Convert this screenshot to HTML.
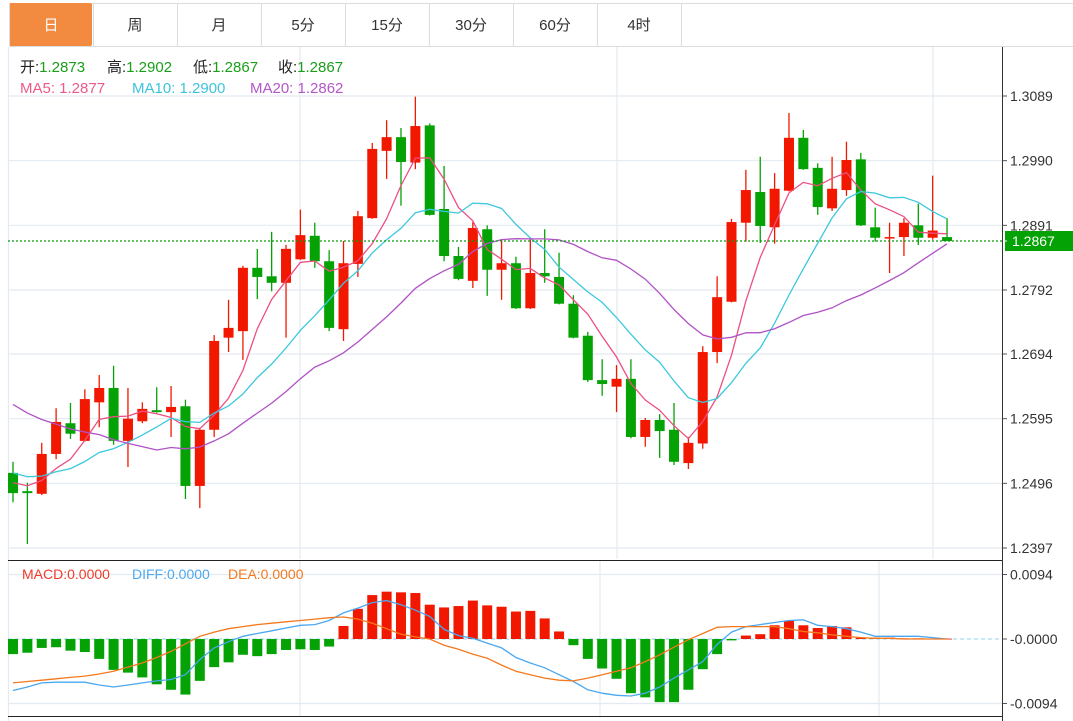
<!DOCTYPE html>
<html><head><meta charset="utf-8">
<style>
html,body{margin:0;padding:0;background:#fff;}
svg{display:block;font-family:"Liberation Sans","Noto Sans CJK SC",sans-serif;}
</style></head>
<body>
<svg id="chart" width="1073" height="721" viewBox="0 0 1073 721" xmlns="http://www.w3.org/2000/svg">
  <rect x="0" y="0" width="1073" height="721" fill="#fff"/>
  <g id="tabs"></g>
  <g id="grid"></g>
  <g id="info">
    <text x="20" y="72" font-size="15" fill="#222">开:<tspan fill="#1a9e1a">1.2873</tspan></text>
    <text x="107" y="72" font-size="15" fill="#222">高:<tspan fill="#1a9e1a">1.2902</tspan></text>
    <text x="193" y="72" font-size="15" fill="#222">低:<tspan fill="#1a9e1a">1.2867</tspan></text>
    <text x="278" y="72" font-size="15" fill="#222">收:<tspan fill="#1a9e1a">1.2867</tspan></text>
    <text x="20" y="93" font-size="15" fill="#ec5a8a">MA5: 1.2877</text>
    <text x="132" y="93" font-size="15" fill="#3cc4dc">MA10: 1.2900</text>
    <text x="250" y="93" font-size="15" fill="#b457c8">MA20: 1.2862</text>
  </g>
  <g id="candles"></g>
  <g id="malines"></g>
  <g id="axis"></g>
  <g id="macd"></g>
</svg>
<script>
// ---- data ----
const opens  = [1.2512,1.2484,1.2480,1.2541,1.2588,1.2561,1.2620,1.2642,1.2561,1.2591,1.2608,1.2605,1.2614,1.2492,1.2578,1.2719,1.2729,1.2826,1.2813,1.2803,1.2839,1.2875,1.2836,1.2732,1.2832,1.2902,1.3005,1.3026,1.2987,1.3044,1.2916,1.2844,1.2806,1.2885,1.2823,1.2833,1.2764,1.2818,1.2812,1.2771,1.2722,1.2654,1.2644,1.2656,1.2567,1.2593,1.2578,1.2527,1.2557,1.2697,1.2774,1.2895,1.2942,1.2888,1.2944,1.3025,1.2979,1.2917,1.2945,1.2992,1.2888,1.2872,1.2873,1.2891,1.2872,1.2873];
const highs  = [1.2529,1.2497,1.2558,1.2611,1.2619,1.2640,1.2662,1.2676,1.2642,1.2620,1.2643,1.2645,1.2624,1.2581,1.2723,1.2777,1.2829,1.2855,1.2881,1.2861,1.2915,1.2895,1.2853,1.2867,1.2913,1.3017,1.3052,1.3040,1.3088,1.3047,1.2982,1.2858,1.2896,1.2891,1.2869,1.2843,1.2872,1.2885,1.2849,1.2784,1.2728,1.2686,1.2677,1.2686,1.2596,1.2602,1.2619,1.2567,1.2706,1.2813,1.2901,1.2976,1.2996,1.2971,1.3063,1.3037,1.2986,1.2996,1.3019,1.3002,1.2918,1.2895,1.2902,1.2924,1.2967,1.2902];
const lows   = [1.2467,1.2403,1.2478,1.2533,1.2564,1.2560,1.2582,1.2555,1.2521,1.2588,1.2604,1.2567,1.2472,1.2458,1.2567,1.2697,1.2685,1.2778,1.2790,1.2719,1.2838,1.2826,1.2729,1.2714,1.2812,1.2901,1.2962,1.2921,1.2977,1.2906,1.2836,1.2807,1.2795,1.2783,1.2777,1.2763,1.2763,1.2803,1.2770,1.2718,1.2651,1.2630,1.2605,1.2565,1.2552,1.2535,1.2524,1.2518,1.2549,1.2680,1.2773,1.2866,1.2864,1.2863,1.2943,1.2976,1.2907,1.2913,1.2936,1.2890,1.2866,1.2818,1.2844,1.2861,1.2869,1.2867];
const closes = [1.2481,1.2481,1.2541,1.2590,1.2572,1.2625,1.2642,1.2561,1.2595,1.2610,1.2605,1.2613,1.2492,1.2578,1.2714,1.2734,1.2826,1.2812,1.2803,1.2855,1.2876,1.2836,1.2734,1.2833,1.2905,1.3008,1.3026,1.2988,1.3043,1.2907,1.2844,1.2809,1.2887,1.2823,1.2833,1.2764,1.2818,1.2813,1.2771,1.2719,1.2654,1.2648,1.2656,1.2567,1.2593,1.2576,1.2529,1.2558,1.2697,1.2781,1.2896,1.2945,1.2890,1.2947,1.3025,1.2977,1.2919,1.2947,1.2991,1.2891,1.2872,1.2873,1.2895,1.2872,1.2883,1.2867];
// closes before the visible window (used only for moving averages)
const priorCloses = [1.2746,1.2738,1.2731,1.2723,1.2716,1.2723,1.2716,1.2708,1.2708,1.2708,1.2539,1.2532,1.2524,1.2524,1.2516,1.2504,1.2501,1.2498,1.2501];
const priceTicks = [1.3089,1.2990,1.2891,1.2792,1.2694,1.2595,1.2496,1.2397];
const lastPrice = 1.2867;
// MACD values in units of 0.0001
const macdHist = [-22,-20,-13,-12,-17,-19,-29,-45,-49,-56,-66,-74,-81,-61,-41,-34,-23,-25,-22,-16,-15,-16,-11,19,44,64,69,68,67,50,46,48,56,49,47,40,41,30,11,-9,-29,-43,-58,-79,-85,-92,-92,-74,-44,-22,-2,5,7,20,27,20,16,19,17,2,2,2,1,1,0.5,0.5];
const diffVals = [-75,-70,-64,-63,-63,-63,-67,-70,-67,-64,-61,-59,-52,-30,-13,-4,4,8,12,16,20,21,27,38,45,53,56,50,42,33,14,5,1,-6,-13,-27,-35,-42,-52,-62,-74,-79,-82,-83,-79,-70,-57,-45,-33,-8,10,18,21,24,27,28,20,18,15,10,4,4,4,4,2,0];
const deaVals  = [-64,-62,-60,-58,-56,-54,-51,-47,-41,-35,-27,-18,-7,4,10,15,18,21,23,25,27,29,31,32,29,23,15,7,3,0,-9,-15,-22,-28,-38,-47,-52,-57,-60,-61,-57,-52,-47,-42,-33,-23,-12,-1,8,17,18,18,18,18,15,11,9,6,4,2,1,1,0,0,0,0];
const macdTicks = [94,0,-94];
const macdTickLabels = ["0.0094","-0.0000","-0.0094"];

// ---- scales ----
const NS = "http://www.w3.org/2000/svg";
const X0 = 13, DX = 14.37;
const PMAX = 1.3089, PMIN = 1.2397, YTOP = 96, YBOT = 548;
function xAt(i){ return X0 + i*DX; }
function yP(p){ return YTOP + (PMAX - p)/(PMAX - PMIN)*(YBOT - YTOP); }
const MZERO = 639, MSCALE = 64.5/94;
function yM(v){ return MZERO - v*MSCALE; }
function mk(tag, attrs, parent){
  const e = document.createElementNS(NS, tag);
  for (const k in attrs) e.setAttribute(k, attrs[k]);
  parent.appendChild(e); return e;
}
const RED = "#f21800", GREEN = "#04a204";

// ---- tabs ----
const tabs = document.getElementById('tabs');
const tabNames = ["日","周","月","5分","15分","30分","60分","4时"];
mk('line',{x1:9,y1:3.5,x2:1073,y2:3.5,stroke:'#dcdcdc'},tabs);
mk('line',{x1:9,y1:46.5,x2:1073,y2:46.5,stroke:'#dcdcdc'},tabs);
tabNames.forEach((t,i)=>{
  const g = mk('g',{},tabs);
  
  
  const x = 9 + i*84;
  if (i===0) mk('rect',{x:x,y:3,width:83,height:43,rx:2,fill:'#f28b40'},g);
  mk('line',{x1:x+84.5,y1:3,x2:x+84.5,y2:46,stroke:'#dcdcdc'},g);
  const tx = mk('text',{x:x+42,y:30,'text-anchor':'middle','font-size':15,fill:i===0?'#fff':'#333'},g);
  tx.textContent = t;
});
mk('line',{x1:9.5,y1:3,x2:9.5,y2:46,stroke:'#dcdcdc'},tabs);

// ---- grid ----
const grid = document.getElementById('grid');
priceTicks.forEach(p=>{
  mk('line',{x1:8,y1:yP(p),x2:1002,y2:yP(p),stroke:'#e3ebf2','stroke-width':1.2},grid);
});
[300,617,933].forEach(x=>mk('line',{x1:x,y1:47,x2:x,y2:559,stroke:'#e3ebf2','stroke-width':1.2},grid));
[300,600,879].forEach(x=>mk('line',{x1:x,y1:561,x2:x,y2:716,stroke:'#e3ebf2','stroke-width':1.2},grid));
mk('line',{x1:8.5,y1:47,x2:8.5,y2:721,stroke:'#e3ebf2','stroke-width':1.2},grid);
[94,-94].forEach(v=>mk('line',{x1:8,y1:yM(v),x2:1002,y2:yM(v),stroke:'#e3ebf2','stroke-width':1.2},grid));

// ---- candles ----
const cg = document.getElementById('candles');
opens.forEach((o,i)=>{
  const c = closes[i], up = c >= o, col = up ? RED : GREEN;
  const g = mk('g',{},cg);
  
  
  const x = xAt(i);
  mk('line',{x1:x,y1:yP(highs[i]),x2:x,y2:yP(lows[i]),stroke:col,'stroke-width':1.3},g);
  const t = Math.min(yP(o),yP(c)), h = Math.max(1.5, Math.abs(yP(o)-yP(c)));
  mk('rect',{x:x-5,y:t,width:10,height:h,fill:col},g);
});

// ---- moving averages ----
const allC = priorCloses.concat(closes);
function ma(n){
  return closes.map((_,i)=>{
    const end = priorCloses.length + i; let s=0;
    for (let k=end-n+1;k<=end;k++) s+=allC[k];
    return s/n;
  });
}
const mg = document.getElementById('malines');
[[5,'#ec4f83','ma5-line'],[10,'#3cc8de','ma10-line'],[20,'#b052c6','ma20-line']].forEach(([n,col,name])=>{
  const v = ma(n);
  const pl = mk('polyline',{points:v.map((p,i)=>xAt(i).toFixed(1)+','+yP(p).toFixed(1)).join(' '),fill:'none',stroke:col,'stroke-width':1.3},mg);
  
  
});

// ---- axis ----
const ax = document.getElementById('axis');
mk('line',{x1:8,y1:yP(lastPrice),x2:1002,y2:yP(lastPrice),stroke:'#0a9a0a','stroke-dasharray':'2,2','stroke-width':1.2},ax);
mk('line',{x1:1002.5,y1:47,x2:1002.5,y2:721,stroke:'#333'},ax);
priceTicks.forEach(p=>{
  const y = yP(p);
  mk('line',{x1:1003,y1:y,x2:1007,y2:y,stroke:'#555'},ax);
  const t = mk('text',{x:1010,y:y+5,'font-size':14,fill:'#333'},ax);
  t.textContent = p.toFixed(4);
});
const lb = mk('g',{},ax);


mk('rect',{x:1005,y:yP(lastPrice)-10,width:68,height:20,fill:'#04a204'},lb);
mk('line',{x1:1003,y1:yP(lastPrice),x2:1007,y2:yP(lastPrice),stroke:'#fff'},lb);
const lt = mk('text',{x:1012,y:yP(lastPrice)+5,'font-size':14,fill:'#fff'},lb);
lt.textContent = lastPrice.toFixed(4);

// ---- MACD ----
const mp = document.getElementById('macd');
mk('line',{x1:8,y1:560.5,x2:1002,y2:560.5,stroke:'#222'},mp);
mk('line',{x1:8,y1:716.5,x2:1002,y2:716.5,stroke:'#222'},mp);
mk('line',{x1:8,y1:MZERO,x2:1000,y2:MZERO,stroke:'#8fd3f2','stroke-dasharray':'4,3'},mp);
macdHist.forEach((v,i)=>{
  const r = mk('rect',{x:xAt(i)-5,y:Math.min(yM(v),MZERO),width:10,height:Math.max(0.8,Math.abs(yM(v)-MZERO)),fill:v>=0?RED:GREEN},mp);
  
  
});
const dl = mk('polyline',{points:diffVals.map((v,i)=>xAt(i).toFixed(1)+','+yM(v).toFixed(1)).join(' '),fill:'none',stroke:'#4aa8f0','stroke-width':1.3},mp);


const el2 = mk('polyline',{points:deaVals.map((v,i)=>xAt(i).toFixed(1)+','+yM(v).toFixed(1)).join(' '),fill:'none',stroke:'#f5781e','stroke-width':1.3},mp);


macdTicks.forEach((v,i)=>{
  const y = yM(v);
  mk('line',{x1:1003,y1:y,x2:1007,y2:y,stroke:'#555'},mp);
  const t = mk('text',{x:1010,y:y+5,'font-size':14,fill:'#333'},mp);
  t.textContent = macdTickLabels[i];
});
const lg = [["MACD:0.0000","#f03a2a",22],["DIFF:0.0000","#4aa8f0",132],["DEA:0.0000","#f5781e",228]];
lg.forEach(([s,c,x])=>{
  const t = mk('text',{x:x,y:579,'font-size':14,fill:c},mp);
  
  
  t.textContent = s;
});
</script>
</body></html>
